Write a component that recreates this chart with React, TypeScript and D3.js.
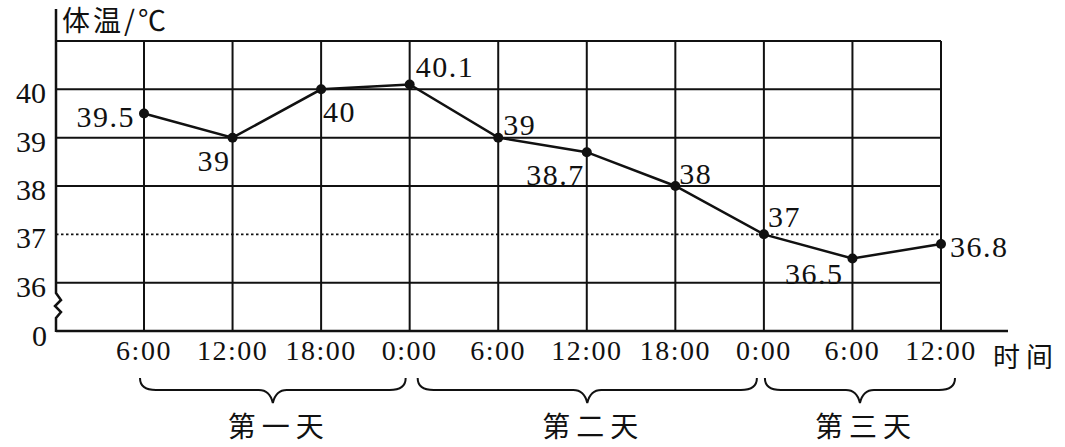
import React from "react";
import * as d3 from "d3";

const timeLabels = ["6:00", "12:00", "18:00", "0:00", "6:00", "12:00", "18:00", "0:00", "6:00", "12:00"];
const temperatures = [39.5, 39, 40, 40.1, 39, 38.7, 38, 37, 36.5, 36.8];
const pointLabels = ["39.5", "39", "40", "40.1", "39", "38.7", "38", "37", "36.5", "36.8"];
const yTicks = [36, 37, 38, 39, 40];
const yTickLabels = ["36", "37", "38", "39", "40"];
const dayLabels = ["第一天", "第二天", "第三天"];
const dayRanges: [number, number][] = [[0, 3], [3, 7], [7, 9]];

// label placement (style only)
const labelPlace: { anchor: string; dx: number; dy: number }[] = [
  { anchor: "end", dx: -9, dy: 13 },
  { anchor: "end", dx: -2, dy: 33 },
  { anchor: "start", dx: 2, dy: 33 },
  { anchor: "start", dx: 6, dy: -8 },
  { anchor: "start", dx: 5, dy: -3 },
  { anchor: "end", dx: -2, dy: 33 },
  { anchor: "start", dx: 4, dy: -2 },
  { anchor: "start", dx: 4, dy: -7 },
  { anchor: "end", dx: -9, dy: 25 },
  { anchor: "start", dx: 9, dy: 13 },
];
const braceTweak: [number, number][] = [[-4, -4], [8, -7], [1, 14]];

const W = 1065;
const H = 447;
const axisX = 56;
const baseY = 331;
const serif = "'Liberation Serif', 'Times New Roman', serif";
const cjk = "'Noto Sans CJK SC', sans-serif";

export default function App() {
  const x = d3.scaleLinear().domain([0, timeLabels.length - 1]).range([144, 941]);
  const y = d3.scaleLinear().domain([35, 41]).range([baseY, 41]);
  const gridRight = x(timeLabels.length - 1);
  const line = d3
    .line<number>()
    .x((_, i) => x(i))
    .y((d) => y(d));

  const bracePath = (x1: number, x2: number) => {
    const yt = 378, ym = 390, yb = 403;
    const xm = (x1 + x2) / 2;
    return `M${x1},${yt} Q${x1},${ym} ${x1 + 16},${ym} L${xm - 14},${ym} Q${xm - 3},${ym} ${xm},${yb} Q${xm + 3},${ym} ${xm + 14},${ym} L${x2 - 16},${ym} Q${x2},${ym} ${x2},${yt}`;
  };

  return (
    <svg
      width={W}
      height={H}
      style={{ position: "absolute", left: 0, top: 0, background: "#fff" }}
    >
      <rect width={W} height={H} fill="#fff" />
      {/* horizontal grid */}
      <line x1={axisX} x2={gridRight} y1={y(41)} y2={y(41)} stroke="#111" strokeWidth={2} />
      {yTicks.map((t) => (
        <line
          key={t}
          x1={axisX}
          x2={gridRight}
          y1={y(t)}
          y2={y(t)}
          stroke="#111"
          strokeWidth={t === 37 ? 1.6 : 2}
          strokeDasharray={t === 37 ? "2.5,2.5" : undefined}
        />
      ))}
      {/* vertical grid */}
      {timeLabels.map((_, i) => (
        <line key={i} x1={x(i)} x2={x(i)} y1={y(41)} y2={baseY} stroke="#111" strokeWidth={2} />
      ))}
      {/* x axis */}
      <line x1={axisX} x2={1008} y1={baseY} y2={baseY} stroke="#111" strokeWidth={2.5} />
      {/* y axis with break */}
      <path
        d={`M${axisX},9 L${axisX},293 L${axisX + 5},300 L${axisX - 1},306 L${axisX + 5},312 L${axisX},318 L${axisX},${baseY + 1}`}
        fill="none"
        stroke="#111"
        strokeWidth={2.5}
      />
      {/* y tick labels */}
      {yTicks.map((t, i) => (
        <text
          key={t}
          x={46}
          y={y(t) + 14}
          textAnchor="end"
          fontFamily={serif}
          fontSize={30}
          fill="#111"
        >
          {yTickLabels[i]}
        </text>
      ))}
      <text x={47} y={baseY + 15} textAnchor="end" fontFamily={serif} fontSize={30} fill="#111">
        0
      </text>
      <text x={62} y={31} fontFamily={cjk} fontSize={28} letterSpacing={3} fill="#111">
        体温/℃
      </text>
      {/* x tick labels */}
      {timeLabels.map((t, i) => (
        <text
          key={i}
          x={x(i)}
          y={360}
          textAnchor="middle"
          fontFamily={serif}
          fontSize={28}
          letterSpacing={1.5}
          fill="#111"
        >
          {t}
        </text>
      ))}
      <text x={993} y={367} fontFamily={cjk} fontSize={27} letterSpacing={6} fill="#111">
        时间
      </text>
      {/* braces */}
      {dayRanges.map(([a, b], i) => {
        const x1 = x(a) + braceTweak[i][0];
        const x2 = x(b) + braceTweak[i][1];
        return (
          <g key={i}>
            <path d={bracePath(x1, x2)} fill="none" stroke="#111" strokeWidth={2} />
            <text
              x={(x1 + x2) / 2 + 6}
              y={437}
              textAnchor="middle"
              fontFamily={cjk}
              fontSize={28}
              letterSpacing={6}
              fill="#111"
            >
              {dayLabels[i]}
            </text>
          </g>
        );
      })}
      {/* data line */}
      <path d={line(temperatures) || ""} fill="none" stroke="#111" strokeWidth={2.5} />
      {temperatures.map((v, i) => (
        <circle key={i} cx={x(i)} cy={y(v)} r={5} fill="#111" />
      ))}
      {temperatures.map((v, i) => (
        <text
          key={i}
          x={x(i) + labelPlace[i].dx}
          y={y(v) + labelPlace[i].dy}
          textAnchor={labelPlace[i].anchor}
          fontFamily={serif}
          fontSize={30}
          letterSpacing={1.5}
          fill="#111"
        >
          {pointLabels[i]}
        </text>
      ))}
    </svg>
  );
}
